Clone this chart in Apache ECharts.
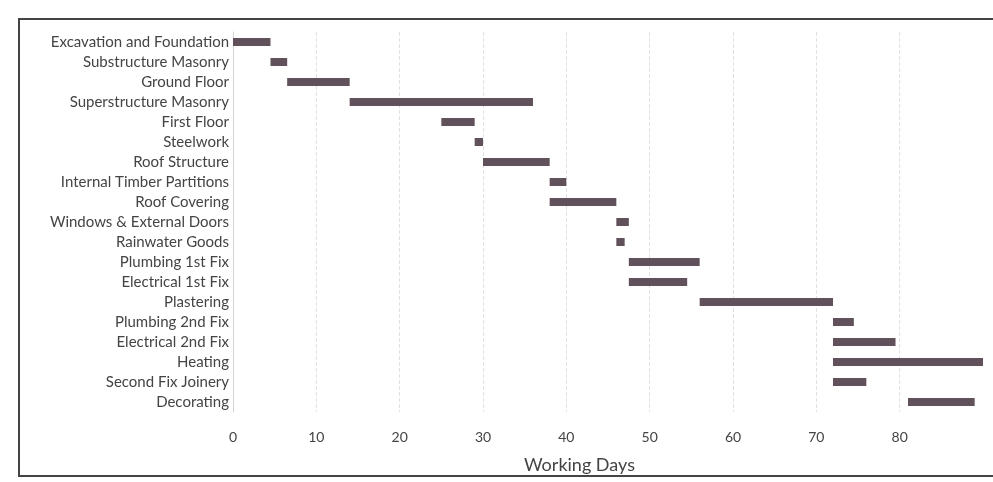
<!DOCTYPE html>
<html>
<head>
<meta charset="utf-8">
<script src="https://cdn.jsdelivr.net/npm/echarts@6/dist/echarts.min.js"></script>
<style>
  html, body { margin: 0; padding: 0; background: #fff; overflow: hidden; }
  #chart { width: 993px; height: 482px; }
  #frame { position: absolute; left: 18px; top: 18px; width: 1010px; height: 459px;
           border: 2px solid #444; box-sizing: border-box; pointer-events: none; }
</style>
</head>
<body>
<div id="chart"></div>
<div id="frame"></div>
<script>
const tasks = [
  "Excavation and Foundation", "Substructure Masonry", "Ground Floor",
  "Superstructure Masonry", "First Floor", "Steelwork", "Roof Structure",
  "Internal Timber Partitions", "Roof Covering", "Windows & External Doors",
  "Rainwater Goods", "Plumbing 1st Fix", "Electrical 1st Fix", "Plastering",
  "Plumbing 2nd Fix", "Electrical 2nd Fix", "Heating", "Second Fix Joinery",
  "Decorating"
];
const startDays = [0, 4.5, 6.5, 14, 25, 29, 30, 38, 38, 46, 46, 47.5, 47.5, 56, 72, 72, 72, 72, 81];
const durations = [4.5, 2, 7.5, 22, 4, 1, 8, 2, 8, 1.5, 1, 8.5, 7, 16, 2.5, 7.5, 18, 4, 8];
const xTicks = [0, 10, 20, 30, 40, 50, 60, 70, 80];
const axisTitle = "Working Days";

const chart = echarts.init(document.getElementById('chart'));
chart.setOption({
  animation: false,
  title: {
    text: axisTitle, left: 519, top: 451,
    textStyle: { fontFamily: 'Lato', fontSize: 18, fontWeight: 'normal', color: '#444' }
  },
  grid: { left: 233, right: 10, top: 32, bottom: 70 },
  xAxis: {
    type: 'value', min: 0, max: 90, interval: 10,
    axisLine: { show: false }, axisTick: { show: false },
    axisLabel: {
      fontFamily: 'Lato', fontSize: 14, color: '#444', margin: 18,
      formatter: v => xTicks.indexOf(v) >= 0 ? String(v) : ''
    },
    splitLine: { show: true, showMaxLine: false, showMinLine: false,
                 lineStyle: { color: '#e2e2e2', type: 'dashed', width: 1 } }
  },
  yAxis: {
    type: 'category', data: tasks, inverse: true,
    axisLine: { show: true, lineStyle: { color: '#d4d4d4' } },
    axisTick: { show: false },
    axisLabel: { fontFamily: 'Lato', fontSize: 15, color: '#444', margin: 4 }
  },
  series: [
    { type: 'bar', stack: 'g', data: startDays, barWidth: 8,
      itemStyle: { color: 'transparent' }, silent: true },
    { type: 'bar', stack: 'g', data: durations, barWidth: 8,
      itemStyle: { color: '#60515a' } }
  ]
});
</script>
</body>
</html>
